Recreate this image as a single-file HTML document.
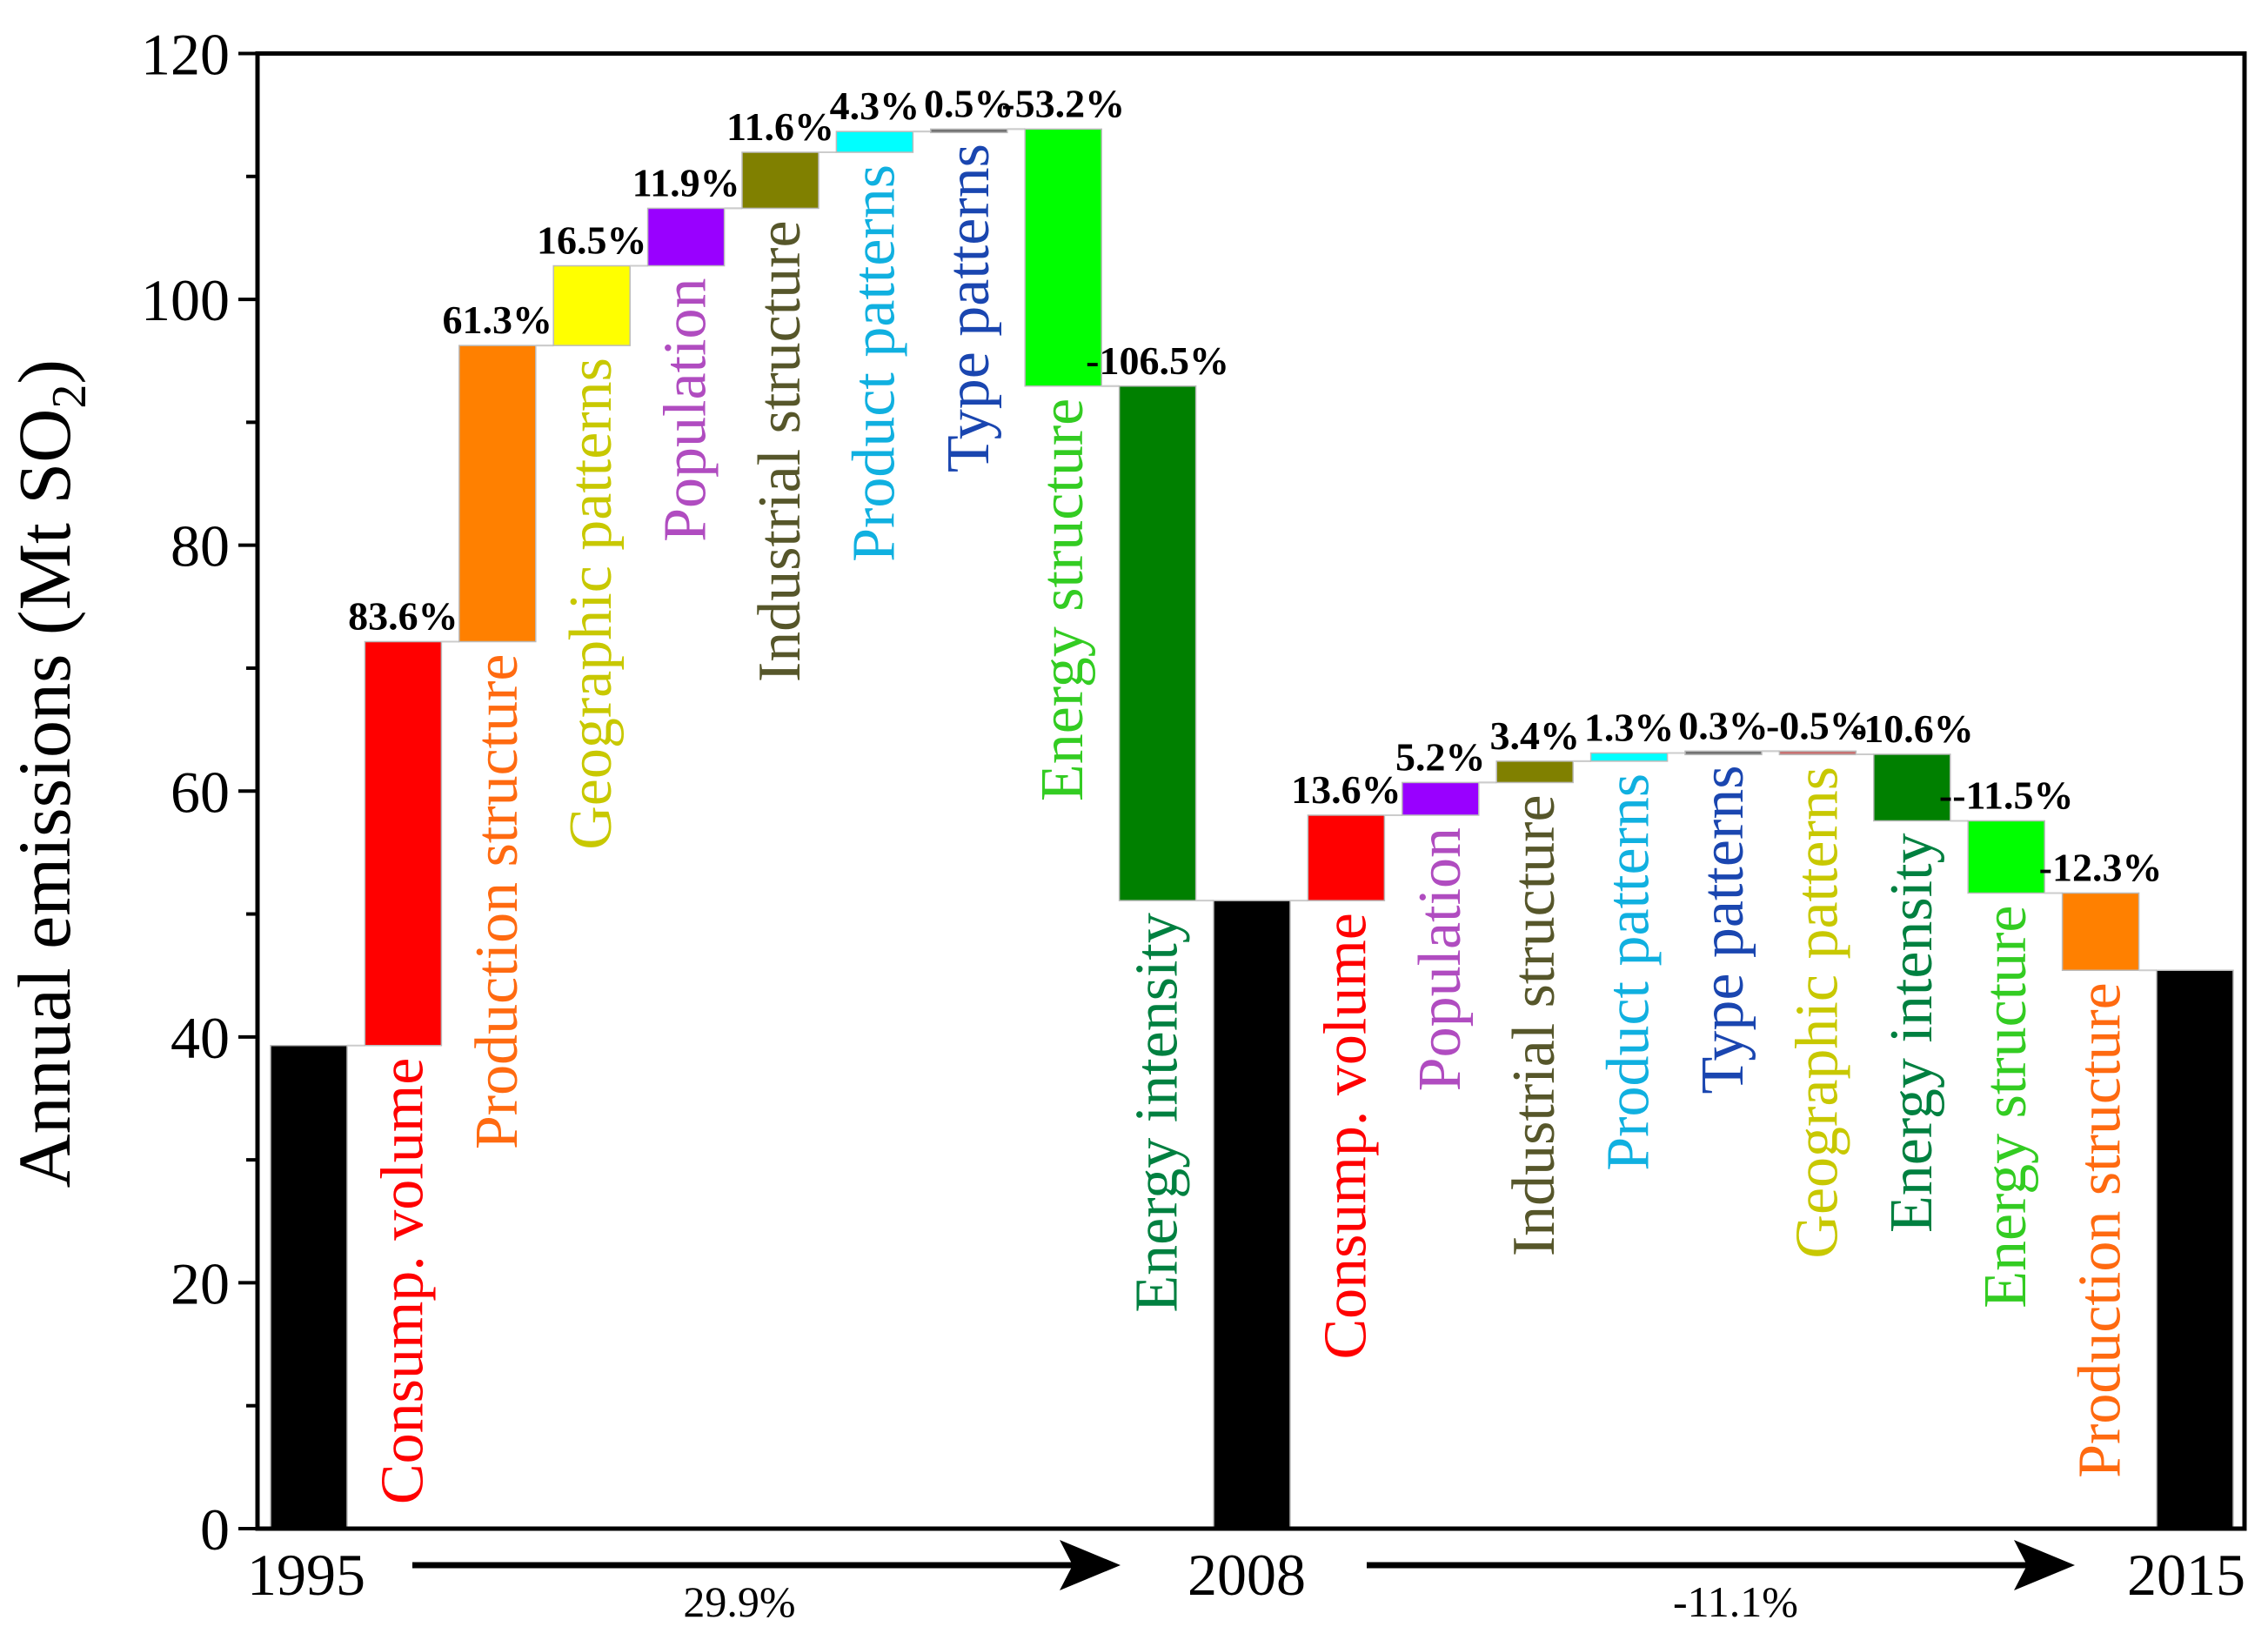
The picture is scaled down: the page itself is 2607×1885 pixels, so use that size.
<!DOCTYPE html>
<html><head><meta charset="utf-8"><style>
html,body{margin:0;padding:0;background:#fff;}
svg{display:block;}
svg text{font-family:"Liberation Serif","Times New Roman",serif;}
</style></head><body>
<svg id="chart" width="2607" height="1885" viewBox="0 0 2607 1885" xmlns="http://www.w3.org/2000/svg" font-family="Liberation Serif, serif">
<g id="bars"></g>
<g id="labels"></g>
<g id="axes"></g>
</svg>
<script>
const base1995 = 39.3;
const pct1 = [83.6, 61.3, 16.5, 11.9, 11.6, 4.3, 0.5, -53.2, -106.5];
const names1 = ["Consump. volume","Production structure","Geographic patterns","Population","Industrial structure","Product patterns","Type patterns","Energy structure","Energy intensity"];
const pctText1 = ["83.6%","61.3%","16.5%","11.9%","11.6%","4.3%","0.5%","-53.2%","-106.5%"];
const pct2 = [13.6, 5.2, 3.4, 1.3, 0.3, -0.5, -10.6, -11.5, -12.3];
const names2 = ["Consump. volume","Population","Industrial structure","Product patterns","Type patterns","Geographic patterns","Energy intensity","Energy structure","Production structure"];
const pctText2 = ["13.6%","5.2%","3.4%","1.3%","0.3%","-0.5%","-10.6%","--11.5%","-12.3%"];
const years = ["1995","2008","2015"];
const yTicks = [0,20,40,60,80,100,120];
const totalText = ["29.9%","-11.1%"];

const colors = {"Consump. volume":["#ff0000","#ff0000"],"Production structure":["#ff8000","#ff6a10"],"Geographic patterns":["#ffff00","#c8c800"],"Population":["#9900ff","#b04cc0"],"Industrial structure":["#808000","#56562a"],"Product patterns":["#00ffff","#10b0e0"],"Type patterns":["#707070","#1a46b0"],"Energy structure":["#00ff00","#33cc22"],"Energy intensity":["#008000","#008040"]};
const geo2Color = "#c87070";

const NS="http://www.w3.org/2000/svg";
const L=296,R=2580,T=61.5,B=1757;
const y=v=>B-(v/120)*(B-T);
const cx=i=>355+i*108.4;
const BW=88;
function mk(tag,attrs,parent){const e=document.createElementNS(NS,tag);for(const k in attrs)e.setAttribute(k,attrs[k]);parent.appendChild(e);return e;}
const gB=document.getElementById('bars'),gL=document.getElementById('labels'),gA=document.getElementById('axes');

function totalBar(i,v){
  const r=mk('rect',{x:cx(i)-BW/2,y:y(v),width:BW,height:B-y(v),fill:'#000',stroke:'#bbb','stroke-width':1.5},gB);
  
  
}
function segment(startIdx,base,pcts,names,texts,isSecond){
  let level=base;
  totalBar(startIdx,base);
  pcts.forEach((p,k)=>{
    const i=startIdx+1+k;
    const d=p*base/100;
    const lo=Math.min(level,level+d),hi=Math.max(level,level+d);
    const prev=level;level+=d;
    mk('line',{x1:cx(i-1)+BW/2,x2:cx(i)-BW/2,y1:y(prev),y2:y(prev),stroke:'#ccc','stroke-width':2},gB);
    let c=colors[names[k]];
    let fill=c[0];
    if(isSecond&&names[k]==="Geographic patterns")fill=geo2Color;
    const h=Math.max(y(lo)-y(hi),4);
    const r=mk('rect',{x:cx(i)-BW/2,y:y(hi),width:BW,height:h,fill:fill,stroke:'#bbb','stroke-width':1.5},gB);
    
    
    const t=mk('text',{x:cx(i),y:y(Math.max(hi,prev))-14,'text-anchor':'middle','font-size':46,'font-weight':'bold',fill:'#000',textLength:'',lengthAdjust:'spacingAndGlyphs'},gL);
    t.removeAttribute('textLength');
    t.textContent=texts[k];
    
    
    const tx=cx(i)+22, ty=y(lo)+14;
    const n=mk('text',{x:tx,y:ty,transform:`rotate(-90 ${tx} ${ty})`,'text-anchor':'end','font-size':70,fill:c[1]},gL);
    n.textContent=names[k];
    
    
    mk('line',{x1:cx(i)+BW/2,x2:cx(i+1)-BW/2,y1:y(level),y2:y(level),stroke:'#ccc','stroke-width':2},gB);
  });
  return level;
}
const v2008=segment(0,base1995,pct1,names1,pctText1,false);
const v2015=segment(10,v2008,pct2,names2,pctText2,true);
totalBar(20,v2015);

const f=mk('rect',{x:L,y:T,width:R-L,height:B-T,fill:'none',stroke:'#000','stroke-width':5},gA);


for(let v=0;v<=120;v+=10){
  const major=v%20===0;
  mk('line',{x1:L-(major?22:13),x2:L,y1:y(v),y2:y(v),stroke:'#000','stroke-width':4},gA);
}
yTicks.forEach(v=>{
  const t=mk('text',{x:L-32,y:y(v)+24,'text-anchor':'end','font-size':68,fill:'#000'},gA);
  t.textContent=v;
  
  
});
const yt=mk('text',{x:80,y:(T+B)/2-20,transform:`rotate(-90 80 ${(T+B)/2-20})`,'text-anchor':'middle','font-size':86,fill:'#000'},gA);
yt.innerHTML='Annual emissions (Mt SO<tspan font-size="56" dy="18">2</tspan><tspan dy="-18">)</tspan>';


[[0,352],[1,1433],[2,2513]].forEach(([k,x])=>{
  const t=mk('text',{x:x,y:1833,'text-anchor':'middle','font-size':68,fill:'#000'},gA);
  t.textContent=years[k];
  
  
});
[[474,1288,850],[1571,2385,1995]].forEach(([x1,x2,tx],k)=>{
  mk('line',{x1:x1,x2:x2-40,y1:1799,y2:1799,stroke:'#000','stroke-width':7},gA);
  const a=mk('path',{d:`M${x2-70} 1770 L${x2} 1799 L${x2-70} 1828 L${x2-55} 1799 Z`,fill:'#000'},gA);
  
  
  const t=mk('text',{x:tx,y:1858,'text-anchor':'middle','font-size':50,fill:'#000'},gA);
  t.textContent=totalText[k];
  
  
});
</script>
</body></html>
